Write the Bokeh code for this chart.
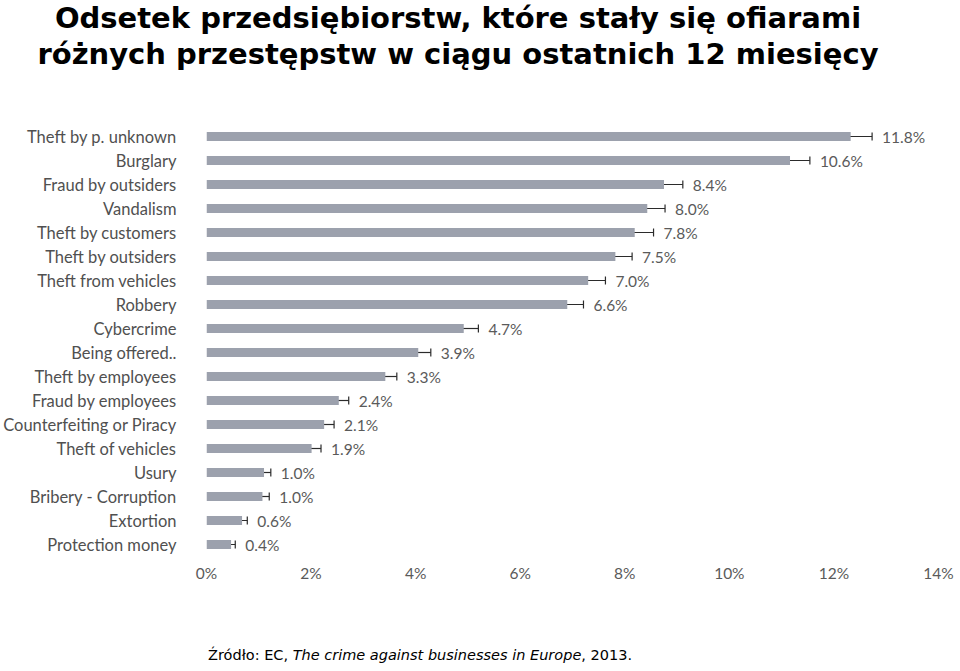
from bokeh.plotting import figure
from bokeh.models import (ColumnDataSource, FactorRange, Range1d, FixedTicker,
                          PrintfTickFormatter, Whisker, TeeHead, Div)
from bokeh.layouts import column
from bokeh.core.properties import value
from bokeh.embed import file_html
from bokeh.resources import INLINE

categories = ["Theft by p. unknown", "Burglary", "Fraud by outsiders", "Vandalism",
              "Theft by customers", "Theft by outsiders", "Theft from vehicles", "Robbery",
              "Cybercrime", "Being offered..", "Theft by employees", "Fraud by employees",
              "Counterfeiting or Piracy", "Theft of vehicles", "Usury", "Bribery - Corruption",
              "Extortion", "Protection money"]
# values printed next to the bars
reported = [11.8, 10.6, 8.4, 8.0, 7.8, 7.5, 7.0, 6.6, 4.7, 3.9, 3.3, 2.4, 2.1, 1.9, 1.0, 1.0, 0.6, 0.4]
# bar lengths as drawn in the picture (axis units, %)
bar_len = [12.32, 11.16, 8.75, 8.43, 8.19, 7.82, 7.30, 6.90, 4.92, 4.05, 3.42, 2.53, 2.25, 2.01,
           1.10, 1.07, 0.68, 0.47]
err_low = [11.93, 10.76, 8.41, 8.10, 7.85, 7.50, 6.96, 6.60, 4.66, 3.81, 3.19, 2.35, 2.08, 1.83,
           0.95, 0.93, 0.58, 0.39]
err_high = [12.73, 11.54, 9.11, 8.77, 8.55, 8.14, 7.63, 7.21, 5.20, 4.29, 3.64, 2.72, 2.44, 2.19,
            1.23, 1.20, 0.78, 0.55]
x_ticks = [0, 2, 4, 6, 8, 10, 12, 14]

title_lines = ["Odsetek przedsiębiorstw, które stały się ofiarami",
               "różnych przestępstw w ciągu ostatnich 12 miesięcy"]
source_note = ("Źródło: EC, ", "The crime against businesses in Europe", ", 2013.")

W = 958

src = ColumnDataSource(dict(
    cat=categories, bar=bar_len, lo=err_low, hi=err_high,
    label=["%.1f%%" % v for v in reported],
))

title_div = Div(
    text=('<div style="font-family:\'DejaVu Sans\';font-weight:bold;font-size:29px;'
          'line-height:36px;text-align:center;width:916px;color:#000;margin:0;padding:0;'
          'white-space:nowrap;">'
          + "<br>".join(title_lines) + "</div>"),
    width=W, height=90, margin=(0, 0, 0, 0))

p = figure(width=W, height=506, output_backend="svg", toolbar_location=None,
           y_range=FactorRange(*list(reversed(categories)), range_padding=0),
           x_range=Range1d(0, 14), margin=(0, 0, 0, 0))
p.min_border_left = 204
p.min_border_right = W - 938
p.min_border_top = 34
p.min_border_bottom = 40
p.outline_line_color = None
p.background_fill_color = "white"
p.border_fill_color = "white"
p.xgrid.visible = False
p.ygrid.visible = False

p.hbar(y="cat", left=0, right="bar", height=0.38, source=src,
       fill_color="#9ca1ad", line_color=None)

w = Whisker(source=src, base="cat", lower="lo", upper="hi", dimension="width",
            line_color="#2b2b2b", line_width=1.2,
            lower_head=TeeHead(size=8, line_color="#2b2b2b", line_width=1.2),
            upper_head=TeeHead(size=8, line_color="#2b2b2b", line_width=1.2))
p.add_layout(w)

p.text(x="hi", y="cat", text="label", source=src, x_offset=10,
       text_baseline="middle", text_align="left",
       text_font=value("Lato"), text_font_size="15.5px", text_color="#5a5a5a")

xa = p.xaxis[0]
xa.ticker = FixedTicker(ticks=x_ticks)
xa.formatter = PrintfTickFormatter(format="%d%%")
xa.axis_line_color = None
xa.major_tick_line_color = None
xa.minor_tick_line_color = None
xa.major_tick_out = 0
xa.major_tick_in = 0
xa.minor_tick_out = 0
xa.major_label_standoff = 7
xa.major_label_text_font = "Lato"
xa.major_label_text_font_size = "15.5px"
xa.major_label_text_color = "#5a5a5a"

ya = p.yaxis[0]
ya.axis_line_color = None
ya.major_tick_line_color = None
ya.minor_tick_line_color = None
ya.major_tick_out = 0
ya.major_tick_in = 0
ya.minor_tick_out = 0
ya.major_label_standoff = 30
ya.major_label_text_font = "Lato"
ya.major_label_text_font_size = "16.5px"
ya.major_label_text_color = "#505050"

foot_div = Div(
    text=('<div style="font-family:\'DejaVu Sans\';font-size:14.5px;line-height:20px;'
          'padding:49px 0 0 208px;margin:0;color:#000;white-space:nowrap;">'
          + source_note[0] + "<i>" + source_note[1] + "</i>" + source_note[2] + "</div>"),
    width=W, height=72, margin=(0, 0, 0, 0))

layout = column(title_div, p, foot_div, spacing=0, margin=(0, 0, 0, 0))
open("out.html", "w").write(file_html(layout, INLINE))
